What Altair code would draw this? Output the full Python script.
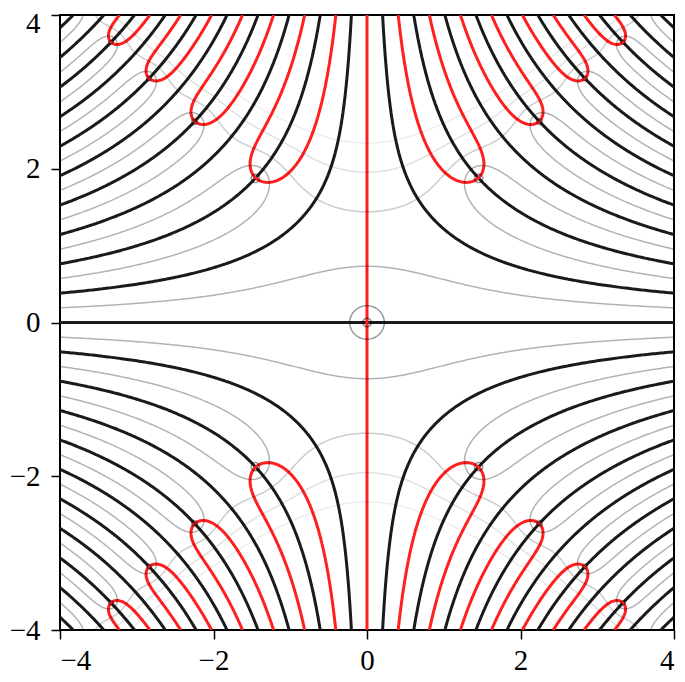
import numpy as np
import pandas as pd
import altair as alt

# ---- chart values ----
X_TICKS = [-4, -2, 0, 2, 4]
Y_TICKS = [-4, -2, 0, 2, 4]
DOMAIN = [-4, 4]
# grey lines: |erf(z)| = 4**k
GREY_EXP = [-4, -3, -2, -1, 0, 1, 2, 3]
GREY_OPACITY = [0.45, 0.45, 0.45, 0.4, 0.3, 0.2, 0.12, 0.07]
RED = "#ff1f1f"
BLACK = "#1a1a1a"
N = 320

# ---- field: erf(z) on a grid (Gauss-Legendre quadrature) ----
xs = np.linspace(DOMAIN[0], DOMAIN[1], N)
ys = np.linspace(DOMAIN[0], DOMAIN[1], N)
Xg, Yg = np.meshgrid(xs, ys)
Z = Xg + 1j * Yg
Z2 = Z * Z
u, w = np.polynomial.legendre.leggauss(160)
acc = np.zeros_like(Z)
for uk, wk in zip(u, w):
    acc += wk * np.exp(-(uk * uk) * Z2)
E = Z * acc / np.sqrt(np.pi)
RE = E.real
IM = E.imag
L4 = np.log(np.abs(E)) / np.log(4.0)


def contour_lines(G):
    ny, nx = G.shape
    pos = G > 0
    a = G[:, :-1]; b = G[:, 1:]
    hc = pos[:, :-1] != pos[:, 1:]
    with np.errstate(all="ignore"):
        th = np.where(hc, a / (a - b), 0.0)
    hx = xs[:-1][None, :] + th * (xs[1] - xs[0])
    hy = np.broadcast_to(ys[:, None], hx.shape)
    a = G[:-1, :]; b = G[1:, :]
    vc = pos[:-1, :] != pos[1:, :]
    with np.errstate(all="ignore"):
        tv = np.where(vc, a / (a - b), 0.0)
    vy = ys[:-1][:, None] + tv * (ys[1] - ys[0])
    vx = np.broadcast_to(xs[None, :], vy.shape)
    nh = ny * (nx - 1)
    px = np.concatenate([hx.ravel(), vx.ravel()])
    py = np.concatenate([hy.ravel(), vy.ravel()])
    jj, ii = np.meshgrid(np.arange(ny - 1), np.arange(nx - 1), indexing="ij")
    bottom = jj * (nx - 1) + ii
    top = (jj + 1) * (nx - 1) + ii
    left = nh + jj * nx + ii
    right = nh + jj * nx + ii + 1
    ids = np.stack([bottom, right, top, left], -1)
    crs = np.stack([hc[:-1, :], vc[:, 1:], hc[1:, :], vc[:, :-1]], -1)
    cnt = crs.sum(-1)
    segs = []
    sel = cnt == 2
    if sel.any():
        segs.append(ids[sel][crs[sel]].reshape(-1, 2))
    J, I = np.nonzero(cnt == 4)
    for j, i in zip(J, I):
        a_, b_, c_, d_ = G[j, i], G[j, i + 1], G[j + 1, i + 1], G[j + 1, i]
        cen = (a_ + b_ + c_ + d_) / 4
        B, Rr, T, Lf = ids[j, i]
        if (cen > 0) == (a_ > 0):
            segs.append(np.array([[B, Rr], [T, Lf]]))
        else:
            segs.append(np.array([[Lf, B], [Rr, T]]))
    if not segs:
        return []
    pairs = np.concatenate(segs)
    adj = {}
    for p, q in pairs.tolist():
        adj.setdefault(p, []).append(q)
        adj.setdefault(q, []).append(p)
    visited = set()

    def walk(start):
        chain = [start]
        visited.add(start)
        cur = start
        while True:
            nxt = None
            for nb in adj[cur]:
                if nb not in visited:
                    nxt = nb
                    break
            if nxt is None:
                break
            chain.append(nxt)
            visited.add(nxt)
            cur = nxt
        return chain

    lines = []
    for node, nb in adj.items():
        if len(nb) == 1 and node not in visited:
            lines.append(walk(node))
    for node in adj:
        if node not in visited:
            ch = walk(node)
            ch.append(ch[0])
            lines.append(ch)
    return [(px[c], py[c]) for c in lines]


rows = []
lid = 0


def add(lines, kind, op):
    global lid
    for lx, ly in lines:
        if len(lx) < 2:
            continue
        df = pd.DataFrame({"x": np.round(lx, 4), "y": np.round(ly, 4),
                           "o": np.arange(len(lx))})
        df["line"] = lid
        df["kind"] = kind
        df["op"] = op
        rows.append(df)
        lid += 1


for k, op in zip(GREY_EXP, GREY_OPACITY):
    add(contour_lines(L4 - k), "grey", op)
add(contour_lines(IM), "im", 1.0)
add(contour_lines(RE), "re", 1.0)
data = pd.concat(rows, ignore_index=True)

label_expr = "datum.value < 0 ? '\u2212' + abs(datum.value) : '' + datum.value"
xscale = alt.Scale(domain=DOMAIN, nice=False, zero=False)
yscale = alt.Scale(domain=DOMAIN, nice=False, zero=False)
axis_common = dict(grid=False, domain=False, tickSize=9, tickWidth=1.5,
                   tickColor="black", labelFont="Liberation Serif",
                   labelFontSize=29, labelColor="black", title=None,
                   labelExpr=label_expr)
xenc = alt.X("x:Q", scale=xscale,
             axis=alt.Axis(values=X_TICKS, labelPadding=7, **axis_common))
yenc = alt.Y("y:Q", scale=yscale,
             axis=alt.Axis(values=Y_TICKS, labelPadding=11,
                           labelOffset={"condition": {"test": "datum.value == 4", "value": 8},
                                        "value": 0},
                           **axis_common))

base = alt.Chart(data)
black = base.transform_filter(alt.datum.kind == "im").mark_line(
    color=BLACK, strokeWidth=3, clip=True, strokeJoin="round").encode(
    x=xenc, y=yenc, detail="line:N", order="o:Q")
red = base.transform_filter(alt.datum.kind == "re").mark_line(
    color=RED, strokeWidth=3, clip=True, strokeJoin="round").encode(
    x=xenc, y=yenc, detail="line:N", order="o:Q")
grey = base.transform_filter(alt.datum.kind == "grey").mark_line(
    color="black", strokeWidth=1.5, clip=True).encode(
    x=xenc, y=yenc, detail="line:N", order="o:Q",
    strokeOpacity=alt.StrokeOpacity("op:Q", scale=None))

chart = alt.layer(black, red, grey).properties(
    width=614, height=615,
    autosize=alt.AutoSizeParams(type="none"),
    padding={"left": 52, "top": 7, "right": 3, "bottom": 44},
).configure_view(stroke="black", strokeWidth=2)

chart.save("out.html", embed_options={"renderer": "svg", "actions": False})
